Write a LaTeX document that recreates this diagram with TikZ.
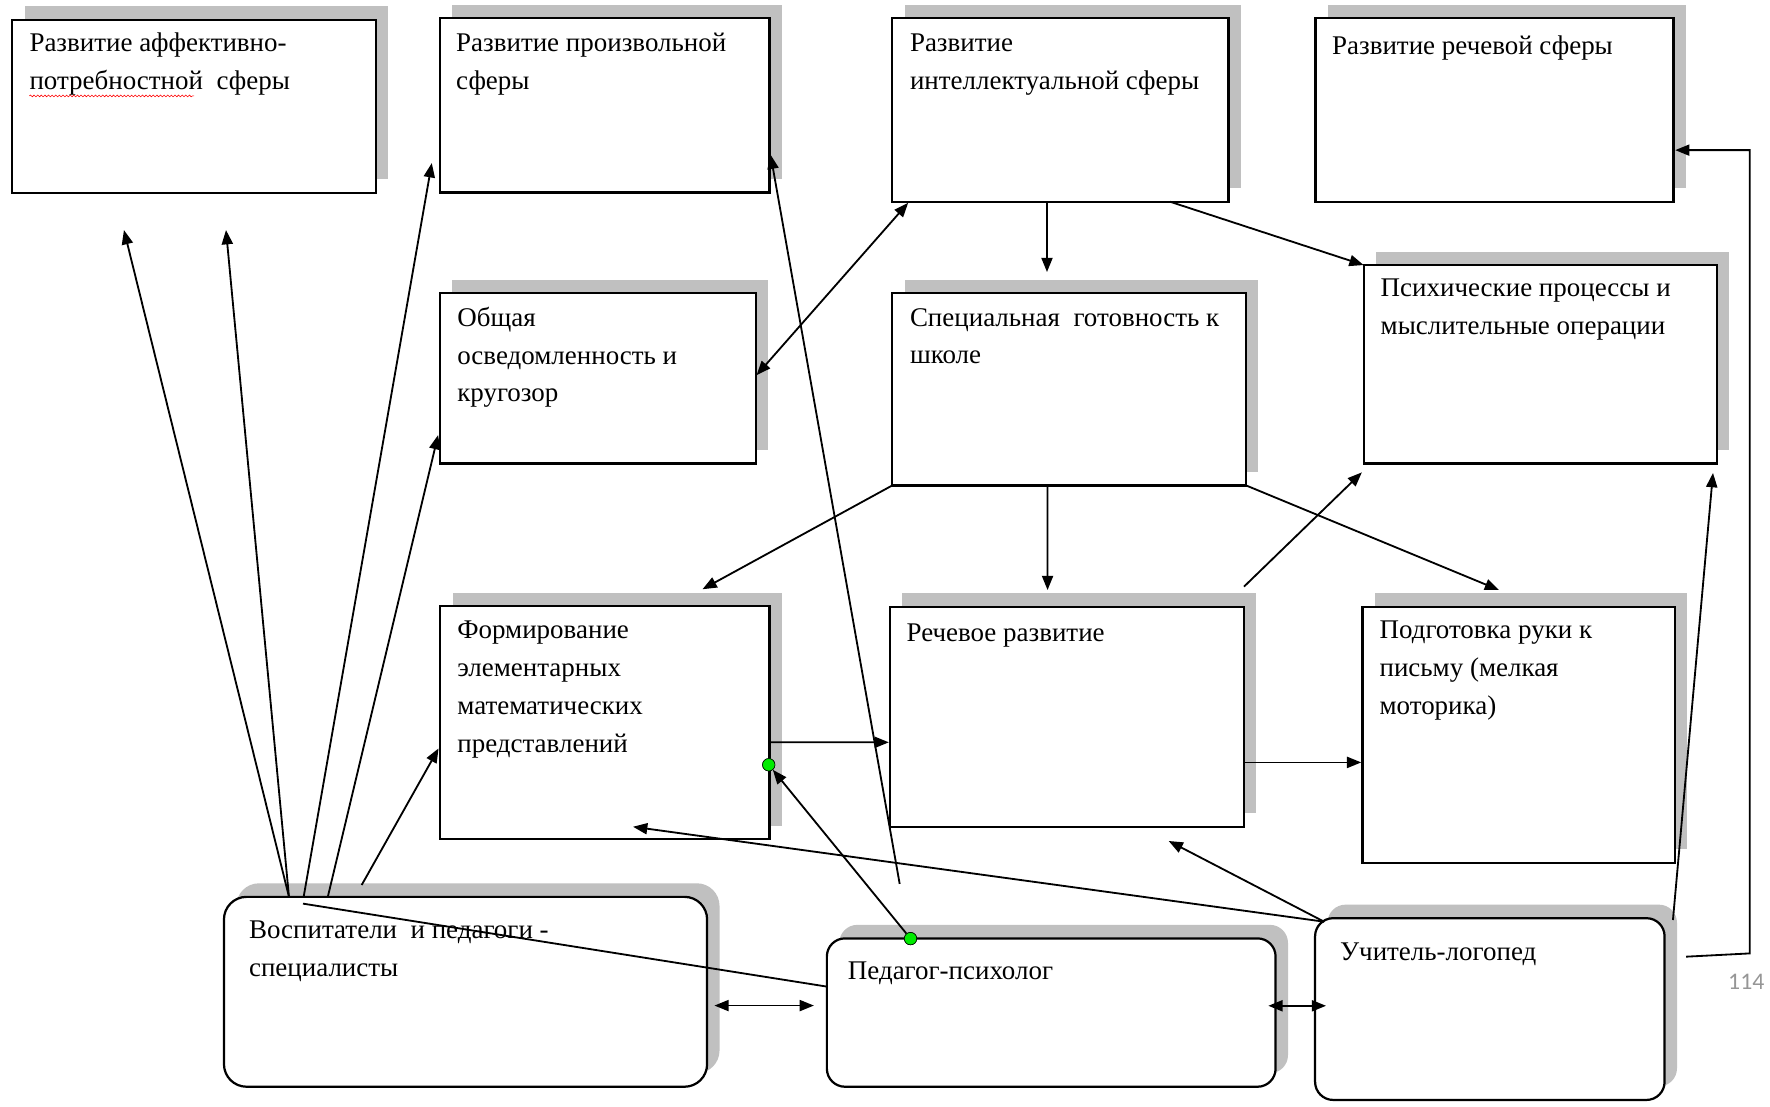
\documentclass[tikz,border=0pt]{standalone}
\usepackage{fontspec}
\setmainfont{Liberation Serif}
\newfontfamily\pagefont{Carlito}
\usetikzlibrary{arrows.meta,shadows,calc,decorations.pathmorphing}
\definecolor{shadowgray}{RGB}{192,192,192}
\definecolor{dotgreen}{RGB}{0,235,0}
\definecolor{pagegray}{RGB}{150,150,150}
\begin{document}
\begin{tikzpicture}[x=0.5mm,y=-0.5mm,
  box/.style={draw, line width=2.8pt, fill=white, anchor=north west, inner sep=0pt, outer sep=0pt,
     drop shadow={shadow xshift=5.5mm, shadow yshift=6mm, fill=shadowgray, opacity=1}},
  rbox/.style={box, rounded corners=#1},
  txt/.style={anchor=base west, inner sep=0pt, align=left, font=\fontsize{34pt}{47.5pt}\selectfont},
  conn/.style={line width=2.3pt, -{Triangle[length=18pt,width=14pt]}},
  plain/.style={line width=2.3pt},
  dbl/.style={line width=2.3pt, {Triangle[length=18pt,width=14pt]}-{Triangle[length=18pt,width=14pt]}},
  gdot/.style={circle, fill=dotgreen, draw=black, line width=0.7pt, minimum size=5.5mm, inner sep=0pt}
]
\fill[white] (0,0) rectangle (1568,980);
\useasboundingbox (0,0) rectangle (1568,980);

% boxes
\node[box, minimum width=161mm, minimum height=76.5mm] (A) at (10.8,17.7) {};
\node[box, minimum width=146mm, minimum height=77.25mm] (B) at (389.6,16) {};
\node[box, minimum width=148.9mm, minimum height=81.25mm] (C) at (790.5,16.2) {};
\node[box, minimum width=158.6mm, minimum height=81.25mm] (D) at (1165.3,16.2) {};
\node[box, minimum width=139.9mm, minimum height=75.3mm] (E) at (389.6,259.9) {};
\node[box, minimum width=156.65mm, minimum height=85.05mm] (F) at (790.5,259.9) {};
\node[box, minimum width=156.5mm, minimum height=87.85mm] (G) at (1208,234.8) {};
\node[box, minimum width=145.8mm, minimum height=103.25mm] (H) at (390,537) {};
\node[box, minimum width=156.8mm, minimum height=97.5mm] (I) at (788.4,537.4) {};
\node[box, minimum width=138.3mm, minimum height=113.45mm] (J) at (1206.9,537.4) {};
\node[rbox=10mm, minimum width=214mm, minimum height=84.1mm] (K) at (198.4,794.5) {};
\node[rbox=8mm, minimum width=198.75mm, minimum height=65.7mm] (L) at (732.5,831.3) {};
\node[rbox=8mm, minimum width=154.8mm, minimum height=80.5mm] (M) at (1165,813.4) {};

% texts (anchor = baseline of the last line)
\node[txt] (tA) at (26,79.4) {Развитие аффективно-\\потребностной\ \ сферы};
\node[txt] (tB) at (404,79.4) {Развитие произвольной\\сферы};
\node[txt] (tC) at (806,79.4) {Развитие\\интеллектуальной сферы};
\node[txt] (tD) at (1180,48) {Развитие речевой сферы};
\node[txt] (tE) at (405,356) {Общая\\осведомленность и\\кругозор};
\node[txt] (tF) at (806,322.4) {Специальная\ \ готовность к\\школе};
\node[txt] (tG) at (1223,296.4) {Психические процессы и\\мыслительные операции};
\node[txt] (tH) at (405,666.2) {Формирование\\элементарных\\математических\\представлений};
\node[txt] (tI) at (803,568) {Речевое развитие};
\node[txt] (tJ) at (1222,632.8) {Подготовка руки к\\письму (мелкая\\моторика)};
\node[txt] (tK) at (220.5,864.9) {Воспитатели\ \ и педагоги -\\специалисты};
\node[txt] (tL) at (751,868) {Педагог-психолог};
\node[txt] (tM) at (1187,850.5) {Учитель-логопед};
\node[font=\pagefont\fontsize{30pt}{36pt}\selectfont, text=pagegray, inner sep=0pt] (pg) at (1547,870) {114};

% spell-check underline
\draw[red, line width=0.7pt, decorate, decoration={snake, amplitude=0.4mm, segment length=1.6mm}] (26,85) -- (172,85);

% free end points
\coordinate (pA1) at (109.8,203.8);
\coordinate (pA2) at (200.2,203.8);
\coordinate (pB1) at (382.5,144.5);
\coordinate (pL1) at (797,783);
\coordinate (pF1) at (927.5,241);
\coordinate (pH1) at (622.3,522);
\coordinate (pI1) at (928,522.7);
\coordinate (pJ1) at (1328,522.7);
\coordinate (pI2) at (1102,519.7);
\coordinate (pG1) at (1206.4,418.5);
\coordinate (pK1) at (632.9,890.8);
\coordinate (pL2) at (721,890.8);
\coordinate (pL3) at (1123.6,891);
\coordinate (pM0) at (1174.7,891);
\coordinate (pM1) at (1173,816.5);
\coordinate (pI3) at (1035.3,745);
\coordinate (pH2) at (560.8,732.4);
\coordinate (pG2) at (1517.5,419);
\coordinate (pM2) at (1493.6,847.5);
\coordinate (pM3) at (1550,844.6);

% green dots
\node[gdot] (dH) at (681,677.5) {};
\node[gdot] (dL) at (806.6,831.5) {};

% connectors from K
\draw[conn] ($(K.north west)+(57.6,0)$) -- (pA1);
\draw[conn] ($(K.north west)+(57.6,0)$) -- (pA2);
\draw[conn] ($(K.north west)+(70.6,0)$) -- (pB1);
\draw[conn] ($(K.north west)+(92,0)$) -- ($(E.north west)+(-1.5,125.5)$);
\draw[conn] ($(K.north west)+(122,-10.5)$) -- ($(H.north west)+(-1.5,126)$);
\draw[plain] ($(K.north west)+(70,6)$) -- ($(L.north west)+(0,42.7)$);

% other connectors
\draw[conn] (pL1) -- ($(B.north east)+(1,121)$);
\draw[dbl] ($(C.south west)+(14,1)$) -- ($(E.north east)+(0.8,72.5)$);
\draw[conn] ($(C.south west)+(137,0)$) -- (pF1);
\draw[conn] ($(C.south west)+(246,0)$) -- (G.north west);
\draw[conn] (F.south west) -- (pH1);
\draw[conn] ($(F.south west)+(137.5,0)$) -- (pI1);
\draw[conn] (F.south east) -- (pJ1);
\draw[conn] (pI2) -- (pG1);
\draw[conn] ($(H.north east)+(0,120.6)$) -- ($(I.north west)+(-1,120.2)$);
\draw[conn] ($(I.north east)+(0,138)$) -- ($(J.north west)+(-1,138)$);
\draw[dbl] (pK1) -- (pL2);
\draw[dbl] (pL3) -- (pM0);
\draw[conn] (pM1) -- (pI3);
\draw[conn] (pM1) -- (pH2);
\draw[conn] (dL) -- (dH);
\draw[conn] ($(M.north east)+(7.4,1.6)$) -- (pG2);
\draw[conn] (pM2) -- (pM3) |- ($(D.north east)+(1.5,116.8)$);

% redraw dots on top
\node[gdot] at (dH) {};
\node[gdot] at (dL) {};
\end{tikzpicture}
\end{document}
